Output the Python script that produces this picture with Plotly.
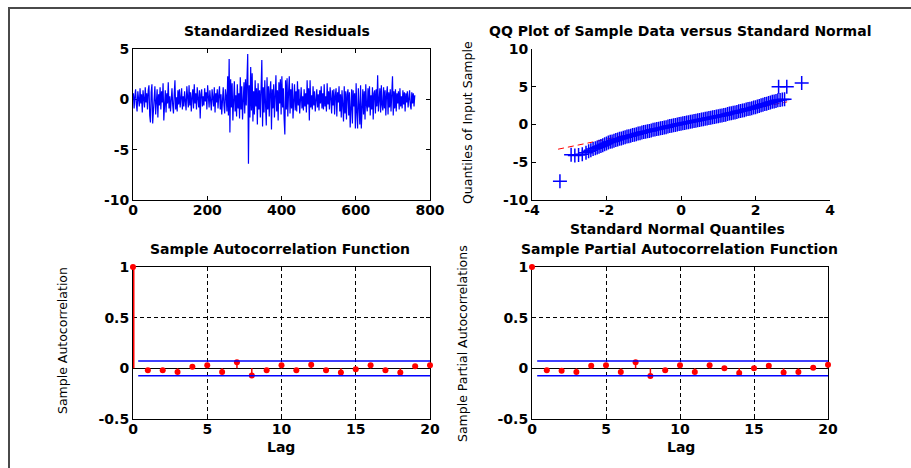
import plotly.graph_objects as go

W, H = 911, 468

# ---------------- data ----------------
resid_seg1 = [  # observations 1..189
    0.6, -0.9, 0.3, 1.0, -0.5, -1.2, 0.8, 0.2, -0.7, 1.1,
    -0.4, 0.5, -1.3, 0.9, 0.1, -0.8, 1.2, -0.3, 0.6, -1.0,
    0.9, 1.4, -1.6, -2.3, 0.7, 1.5, -2.4, -1.1, 0.4, 1.3,
    -1.5, 0.2, 1.0, -1.8, 0.5, -0.6, 1.2, -1.0, 0.8, -0.3,
    1.6, -2.1, 0.4, 0.9, -1.3, 0.6, -0.4, 1.7, -0.9, 0.3,
    -1.2, 0.8, 1.1, -0.6, -1.4, 0.5, 1.9, -1.0, 0.2, -1.2,
    0.9, -0.5, 1.0, -0.8, 0.4, 1.1, -1.0, 0.3, -0.7, 0.8,
    -0.2, -1.1, 1.3, 0.4, -0.8, 1.4, -0.6, 0.7, -1.2, 0.2,
    1.0, -0.9, 1.5, -0.4, 0.6, -1.0, 1.2, 0.1, -0.8, 0.9,
    -1.9, 0.5, 1.0, -0.7, 0.3,
]
resid_seg2 = [  # observations 191..379
    -0.6, 1.1, -0.2, 0.7, -1.0, 1.4, 0.3, -0.8, 0.9, -0.4,
    -1.1, 1.0, 0.2, -0.7, 1.2, -1.3, 0.6, -0.3, 1.0, -0.9,
    0.4, 1.3, -1.0, 0.5, -1.5, 0.8, 1.2, -0.6, -1.4, 1.0,
    0.3, -1.2, 2.3, -1.6, 4.0, -3.3, 2.0, -0.8, 1.6, -2.1,
    0.7, 1.8, -1.2, 0.4, -1.7, 1.5, -0.9, 0.6, -1.9, 2.2,
    -1.0, 1.3, -2.0, 0.5, 1.7, -1.4, 2.0, -0.6, 1.2, 4.5,
    -6.4, 1.4, -1.8, 3.2, -1.1, 2.6, -2.2, 0.8, -1.5, 1.9,
    -0.7, 1.1, -2.5, 1.6, -1.0, 0.9, -1.8, 1.4, 3.9, -2.7,
    1.2, -1.3, 1.9, -0.5, -2.6, 2.2, -1.0, 1.3, -1.7, 0.8,
    1.8, -3.0, 1.0, -0.9, 1.5,
]
resid_seg3 = [  # observations 381..569
    -1.8, 0.6, 2.4, -1.2, 0.9, -2.1, 1.7, -0.4, 2.0, -1.5,
    2.3, -0.8, 1.1, -1.9, -3.5, 1.9, -1.0, 2.1, -1.7, 0.7,
    2.3, -1.4, 1.0, -0.9, 1.6, -1.9, 0.4, 1.5, -1.1, 0.8,
    -1.2, 1.8, -0.6, 1.0, -1.4, 0.5, 1.2, -0.9, 0.3, -1.1,
    1.0, -0.7, 0.6, -1.3, 1.9, -0.5, 1.1, -2.1, 1.9, -0.8,
    0.4, -1.0, 1.3, -0.6, 0.8, -1.2, 0.2, 1.0, -0.8, 0.5,
    -1.1, 0.9, -0.4, 1.3, -0.9, 0.6, -1.0, 1.5, -0.7, 0.3,
    -1.2, 1.6, -0.5, 0.8, -1.0, 1.2, 0.1, -1.4, 0.9, -0.6,
    1.0, -1.5, 0.4, 1.1, -1.7, 0.7, -0.3, 1.3, -1.2, 0.5,
    -1.8, 0.9, -0.6, -2.2, 1.3,
]
resid_seg4 = [  # observations 571..759
    -1.4, 0.8, -2.0, 0.5, 1.0, -1.6, 0.7, -2.8, -1.0, 1.0,
    -2.4, 0.9, -0.7, 0.6, -2.9, 1.6, -1.3, -2.9, 1.1, -0.5,
    -2.5, 1.4, -2.9, -1.0, 1.0, -1.5, 0.8, -2.0, 1.5, -0.6,
    -1.2, 1.1, -0.8, 1.3, -1.6, 0.4, -1.0, 1.2, -2.0, 0.6,
    0.9, -1.4, 1.0, -0.7, 2.4, -1.2, 0.6, 1.1, -1.3, 1.4,
    -0.6, -1.1, 1.2, -0.9, 0.9, -1.6, 0.5, 1.3, -1.5, 0.7,
    -0.8, 1.0, -1.2, 0.4, 2.3, -1.6, 0.8, -0.9, 1.0, -1.2,
    0.6, -0.4, 0.8, -1.0, 1.1, -0.7, 0.3, -0.9, 0.9, -0.5,
    0.7, -1.2, 0.6, -0.3, 0.8, -0.8, 0.5, 0.9, -0.6, -1.0,
    0.7, -0.4, 0.6, -0.7, 0.4,
]
resid = resid_seg1 + resid_seg2 + resid_seg3 + resid_seg4
resid_x = [1 + 2 * i for i in range(len(resid))]

# QQ plot: standard normal quantiles vs sample quantiles
qq_theory = [
    -3.25, -2.95, -2.85, -2.75, -2.65, -2.55, -2.48, -2.42, -2.36,
    -2.30, -2.25, -2.20, -2.15, -2.10, -2.05, -2.00, -1.95, -1.90, -1.85,
    -1.80, -1.75, -1.70, -1.65, -1.60, -1.55, -1.50, -1.45, -1.40, -1.35,
    -1.30, -1.25, -1.20, -1.15, -1.10, -1.05, -1.00, -0.95, -0.90, -0.85,
    -0.80, -0.75, -0.70, -0.65, -0.60, -0.55, -0.50, -0.45, -0.40, -0.35,
    -0.30, -0.25, -0.20, -0.15, -0.10, -0.05, 0.00, 0.05, 0.10, 0.15,
    0.20, 0.25, 0.30, 0.35, 0.40, 0.45, 0.50, 0.55, 0.60, 0.65,
    0.70, 0.75, 0.80, 0.85, 0.90, 0.95, 1.00, 1.05, 1.10, 1.15,
    1.20, 1.25, 1.30, 1.35, 1.40, 1.45, 1.50, 1.55, 1.60, 1.65,
    1.70, 1.75, 1.80, 1.85, 1.90, 1.95, 2.00, 2.05, 2.10, 2.15,
    2.20, 2.25, 2.30, 2.35, 2.40, 2.45,
    2.50, 2.55, 2.60, 2.66, 2.72, 2.78, 2.62, 2.84, 3.24,
]
qq_sample = [
    -7.5, -4.0, -4.1, -4.05, -3.95, -3.75, -3.55, -3.4, -3.25,
    -3.15, -3.05, -2.95, -2.85, -2.75, -2.6, -2.5, -2.4, -2.3, -2.25,
    -2.15, -2.05, -2.0, -1.9, -1.85, -1.75, -1.7, -1.6, -1.55, -1.5,
    -1.4, -1.35, -1.3, -1.2, -1.15, -1.05, -1.0, -0.95, -0.9, -0.85,
    -0.8, -0.7, -0.65, -0.6, -0.55, -0.5, -0.45, -0.4, -0.35, -0.25,
    -0.2, -0.15, -0.1, -0.05, 0.0, 0.05, 0.1, 0.15, 0.2, 0.25,
    0.3, 0.35, 0.4, 0.45, 0.5, 0.55, 0.6, 0.65, 0.7, 0.75,
    0.8, 0.85, 0.9, 0.95, 1.0, 1.05, 1.1, 1.15, 1.2, 1.25,
    1.3, 1.4, 1.45, 1.5, 1.55, 1.6, 1.65, 1.75, 1.8, 1.85,
    1.9, 2.0, 2.05, 2.1, 2.15, 2.25, 2.3, 2.4, 2.45, 2.55,
    2.6, 2.7, 2.75, 2.85, 2.9, 3.0,
    3.05, 3.1, 3.2, 3.25, 3.3, 3.35, 5.0, 5.0, 5.5,
]
qq_line_x = [-3.3, 2.85]
qq_line_y = [-3.27, 3.0]

# ACF / PACF
lags = list(range(21))
acf_vals = [1.0, -0.02, -0.02, -0.035, 0.015, 0.03, -0.035, 0.06, -0.07, -0.02,
            0.03, -0.02, 0.035, -0.02, -0.04, -0.01, 0.03, -0.02, -0.04, 0.02, 0.03]
pacf_vals = [1.0, -0.02, -0.025, -0.035, 0.025, 0.03, -0.035, 0.06, -0.075, -0.02,
             0.03, -0.035, 0.03, 0.0, -0.045, 0.0, 0.025, -0.04, -0.035, 0.005, 0.035]
conf_bound = 0.0725
bound_x = [0.35, 20]

# ticks
resid_xticks = [0, 200, 400, 600, 800]
resid_yticks = [-10, -5, 0, 5]
qq_xticks = [-4, -2, 0, 2, 4]
qq_yticks = [-10, -5, 0, 5, 10]
lag_ticks = [0, 5, 10, 15, 20]
corr_yticks = [-0.5, 0, 0.5, 1]
corr_ytext = ["-0.5", "0", "0.5", "1"]

# ---------------- layout helpers ----------------
def px_x(a, b):
    return [a / W, b / W]

def px_y(top, bottom):
    return [1 - bottom / H, 1 - top / H]

TICKFONT = dict(family="DejaVu Sans", size=14, color="black", weight="bold")
TITLEFONT = dict(family="DejaVu Sans", size=14, color="black", weight="bold")
YTFONT = dict(family="DejaVu Sans", size=12.5, color="black")

def axis(domain, rng, tickvals, ticktext=None, box=True, grid=False, zero=False,
         anchor=None, standoff=0):
    d = dict(domain=domain, range=rng, tickvals=tickvals,
             ticktext=ticktext if ticktext else [str(v) for v in tickvals],
             showline=True, linecolor="black", linewidth=1,
             mirror="ticks" if box else False,
             ticks="inside", ticklen=4, tickcolor="black", tickwidth=1,
             showgrid=grid, gridcolor="black", griddash="4px,3px", gridwidth=1,
             zeroline=zero, zerolinecolor="black", zerolinewidth=1,
             tickfont=TICKFONT, automargin=False, fixedrange=True,
             layer="below traces", ticklabelstandoff=standoff)
    if anchor:
        d["anchor"] = anchor
    return d

fig = go.Figure()

# Panel 1: residuals
fig.add_trace(go.Scatter(x=resid_x, y=resid, mode="lines",
                         line=dict(color="#0000ff", width=1.2), xaxis="x", yaxis="y",
                         showlegend=False))

# Panel 2: QQ
fig.add_trace(go.Scatter(x=qq_line_x, y=qq_line_y, mode="lines",
                         line=dict(color="#ff0000", width=1, dash="6px,4px"),
                         xaxis="x2", yaxis="y2", showlegend=False))
fig.add_trace(go.Scatter(x=qq_theory, y=qq_sample, mode="markers",
                         marker=dict(symbol="cross-thin", size=10,
                                     line=dict(color="#0000ff", width=1.5)),
                         xaxis="x2", yaxis="y2", showlegend=False))

def stems(xs, ys):
    sx, sy = [], []
    for a, b in zip(xs, ys):
        sx += [a, a, None]
        sy += [0, b, None]
    return sx, sy

# Panel 3: ACF (lag-0 stem sits on the left axis edge -> drawn wider, half is clipped)
fig.add_trace(go.Scatter(x=[lags[0], lags[0]], y=[0, acf_vals[0]], mode="lines",
                         line=dict(color="#ff0000", width=3),
                         xaxis="x3", yaxis="y3", showlegend=False))
sx, sy = stems(lags[1:], acf_vals[1:])
fig.add_trace(go.Scatter(x=sx, y=sy, mode="lines", line=dict(color="#ff0000", width=1.5),
                         xaxis="x3", yaxis="y3", showlegend=False))
fig.add_trace(go.Scatter(x=lags, y=acf_vals, mode="markers",
                         marker=dict(color="#ff0000", size=6), cliponaxis=False,
                         xaxis="x3", yaxis="y3", showlegend=False))
for b in (conf_bound, -conf_bound):
    fig.add_trace(go.Scatter(x=bound_x, y=[b, b], mode="lines",
                             line=dict(color="#0000ff", width=1.5),
                             xaxis="x3", yaxis="y3", showlegend=False))

# Panel 4: PACF (lag 0 only as a marker)
sx, sy = stems(lags[1:], pacf_vals[1:])
fig.add_trace(go.Scatter(x=sx, y=sy, mode="lines", line=dict(color="#ff0000", width=1.5),
                         xaxis="x4", yaxis="y4", showlegend=False))
fig.add_trace(go.Scatter(x=lags, y=pacf_vals, mode="markers",
                         marker=dict(color="#ff0000", size=6), cliponaxis=False,
                         xaxis="x4", yaxis="y4", showlegend=False))
for b in (conf_bound, -conf_bound):
    fig.add_trace(go.Scatter(x=bound_x, y=[b, b], mode="lines",
                             line=dict(color="#0000ff", width=1.5),
                             xaxis="x4", yaxis="y4", showlegend=False))

fig.update_layout(
    width=W, height=H,
    margin=dict(l=0, r=0, t=0, b=0),
    paper_bgcolor="white", plot_bgcolor="white",
    xaxis=axis(px_x(133, 430), [0, 800], resid_xticks, anchor="y", standoff=-3),
    yaxis=axis(px_y(49, 200), [-10, 5], resid_yticks, anchor="x"),
    xaxis2=axis(px_x(532, 830), [-4, 4], qq_xticks, box=False, anchor="y2", standoff=-3),
    yaxis2=axis(px_y(49, 200), [-10, 10], qq_yticks, box=False, anchor="x2"),
    xaxis3=axis(px_x(133, 430), [0, 20], lag_ticks, grid=True, anchor="y3", standoff=-3),
    yaxis3=axis(px_y(267, 419), [-0.5, 1], corr_yticks, corr_ytext, grid=True, zero=True, anchor="x3"),
    xaxis4=axis(px_x(532, 828), [0, 20], lag_ticks, grid=True, anchor="y4", standoff=-3),
    yaxis4=axis(px_y(267, 419), [-0.5, 1], corr_yticks, corr_ytext, grid=True, zero=True, anchor="x4"),
    shapes=[dict(type="rect", xref="paper", yref="paper",
                 x0=9 / W, x1=1.02, y0=-0.05, y1=1 - 8 / H,
                 line=dict(color="#4a4a4a", width=2), layer="below")],
)

def ann(text, x, y, font, angle=0):
    fig.add_annotation(text=text, x=x / W, y=1 - y / H, xref="paper", yref="paper",
                       showarrow=False, font=font, textangle=angle,
                       xanchor="center", yanchor="middle")

ann("Standardized Residuals", 277, 31, TITLEFONT)
ann("QQ Plot of Sample Data versus Standard Normal", 680, 31, TITLEFONT)
ann("Standard Normal Quantiles", 677, 229, TITLEFONT)
ann("Quantiles of Input Sample", 468, 123, YTFONT, -90)
ann("Sample Autocorrelation Function", 280, 249, TITLEFONT)
ann("Sample Partial Autocorrelation Function", 679, 249, TITLEFONT)
ann("Lag", 281, 447, TITLEFONT)
ann("Lag", 681, 447, TITLEFONT)
ann("Sample Autocorrelation", 62, 340, YTFONT, -90)
ann("Sample Partial Autocorrelations", 462, 344, YTFONT, -90)

fig.write_html("out.html", config={"displayModeBar": False},
               post_script="document.body.style.margin='0px';")
